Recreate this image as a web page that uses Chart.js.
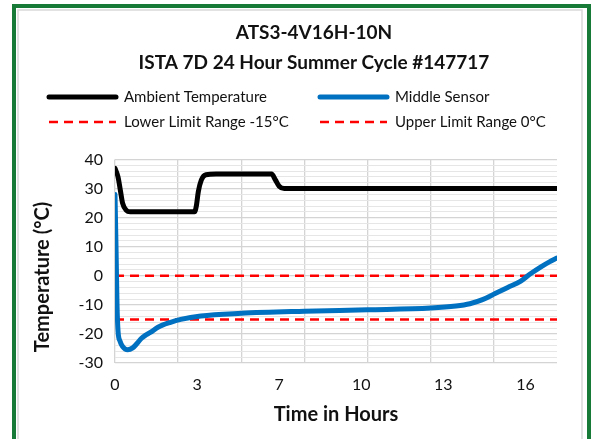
<!DOCTYPE html>
<html>
<head>
<meta charset="utf-8">
<script src="https://cdn.jsdelivr.net/npm/chart.js@4.4.1/dist/chart.umd.min.js"></script>
<style>
  html, body { margin: 0; padding: 0; background: #fff; }
  #wrap { width: 592px; height: 439px; }
</style>
</head>
<body>
<div id="wrap"><canvas id="grafico" width="592" height="439"></canvas></div>
<script>
// --- datos ---
const tituloLineas = ['ATS3-4V16H-10N', 'ISTA 7D 24 Hour Summer Cycle #147717'];

// Ambient Temperature (horas / °C)
const horasAmbiente = [0, 0.12, 0.22, 0.3, 0.45, 0.6, 3.15, 3.22, 3.3, 3.42, 3.6, 4.0, 6.2, 6.35, 6.5, 6.7, 17.5];
const tempAmbiente  = [37, 34, 29, 25, 22.5, 22, 22, 24, 29, 33, 34.8, 35, 35, 33, 30.8, 30, 30];

// Middle Sensor (horas / °C)
const horasSensor = [0, 0.04, 0.08, 0.12, 0.2, 0.3, 0.5, 0.7, 0.87, 1.05, 1.2, 1.4, 1.7, 2.2, 2.6, 3.4, 5.0, 7.5, 10, 12.5, 13.5, 14.05, 14.55, 15.05, 15.55, 16.05, 16.45, 16.85, 17.2, 17.5];
const tempSensor  = [28, 10, -10, -19, -22.5, -24.3, -25.4, -24.8, -23.3, -21.5, -20.5, -19.5, -17.7, -16, -15, -13.8, -12.9, -12.2, -11.7, -11.1, -10.4, -9.6, -8.2, -6.1, -4, -1.9, 0.7, 3.0, 4.8, 6.1];

// Limites
const horasLimite = [0, 17.5];
const limiteInferior = [-15, -15];
const limiteSuperior = [0, 0];

// Ejes
const ejeX = [0, 17.5];
const ejeY = [-30, 40];
const horasEtiquetas = [0, 3.25, 6.5, 9.75, 13, 16.25];
const textoEtiquetas = ['0', '3', '7', '10', '13', '16'];
const horasRejilla = [0, 2.5, 5, 7.5, 10, 12.5, 15];

const nombres = ['Ambient Temperature', 'Middle Sensor', 'Lower Limit Range -15°C', 'Upper Limit Range 0°C'];

function puntos(xs, ys) {
    return xs.map((x, i) => ({ x: x, y: ys[i] }));
}

const FUENTE = 'Lato, "Open Sans", sans-serif';

// marco verde, leyenda y titulos de ejes
const marcoPlugin = {
    id: 'marco',
    beforeDraw(chart) {
        const ctx = chart.ctx;
        ctx.save();
        ctx.fillStyle = '#fff';
        ctx.fillRect(0, 0, chart.width, chart.height);
        ctx.strokeStyle = '#D9D9D9';
        ctx.lineWidth = 1.5;
        ctx.strokeRect(18, 10, 564, 500);
        ctx.strokeStyle = '#177A36';
        ctx.lineWidth = 4;
        ctx.strokeRect(14, 6, 575, 520);
        ctx.restore();
    },
    afterDraw(chart) {
        const ctx = chart.ctx;
        const ds = chart.data.datasets;
        ctx.save();
        // leyenda en dos columnas
        const items = [
            { x: 49, y: 97 }, { x: 320, y: 97 },
            { x: 49, y: 122 }, { x: 320, y: 122 }
        ];
        items.forEach((it, i) => {
            const d = ds[i];
            ctx.strokeStyle = d.borderColor;
            ctx.lineWidth = d.borderWidth;
            ctx.lineCap = d.borderDash ? 'butt' : 'round';
            ctx.setLineDash(d.borderDash || []);
            ctx.beginPath();
            ctx.moveTo(it.x, it.y);
            ctx.lineTo(it.x + 67, it.y);
            ctx.stroke();
            ctx.setLineDash([]);
            ctx.fillStyle = '#111';
            ctx.font = '15px ' + FUENTE;
            ctx.textBaseline = 'middle';
            ctx.textAlign = 'left';
            ctx.fillText(d.label, it.x + 75, it.y);
        });
        // titulos de ejes
        ctx.font = 'bold 20px ' + FUENTE;
        ctx.fillStyle = '#111';
        ctx.textAlign = 'center';
        ctx.textBaseline = 'middle';
        ctx.fillText('Time in Hours', 336, 415);
        ctx.translate(43, 277);
        ctx.rotate(-Math.PI / 2);
        ctx.fillText('Temperature (°C)', 0, 0);
        ctx.restore();
    }
};

const todasX = [...new Set([...horasEtiquetas, ...horasRejilla])].sort((a, b) => a - b);

new Chart(document.getElementById('grafico'), {
    type: 'line',
    data: {
        datasets: [
            {
                label: nombres[0],
                data: puntos(horasAmbiente, tempAmbiente),
                borderColor: '#000000',
                borderWidth: 5,
                cubicInterpolationMode: 'monotone',
                borderCapStyle: 'round',
                borderJoinStyle: 'round'
            },
            {
                label: nombres[1],
                data: puntos(horasSensor, tempSensor),
                borderColor: '#0070C0',
                borderWidth: 5,
                cubicInterpolationMode: 'monotone',
                borderCapStyle: 'round',
                borderJoinStyle: 'round'
            },
            {
                label: nombres[2],
                data: puntos(horasLimite, limiteInferior),
                borderColor: '#FF0000',
                borderWidth: 2.5,
                borderDash: [9, 6]
            },
            {
                label: nombres[3],
                data: puntos(horasLimite, limiteSuperior),
                borderColor: '#FF0000',
                borderWidth: 2.5,
                borderDash: [9, 6]
            }
        ]
    },
    options: {
        responsive: false,
        animation: false,
        events: [],
        elements: { point: { radius: 0 } },
        // padding izquierdo para que el titulo quede centrado como en el original
        layout: { padding: { top: 11, left: 71, right: 35, bottom: 0 } },
        plugins: {
            legend: { display: false },
            tooltip: { enabled: false },
            title: {
                display: true,
                text: tituloLineas,
                color: '#111',
                font: { family: FUENTE, size: 19, weight: 'bold', lineHeight: 1.62 },
                padding: { top: 6, bottom: 81 }
            }
        },
        scales: {
            x: {
                type: 'linear',
                min: ejeX[0],
                max: ejeX[1],
                afterBuildTicks: (scale) => {
                    scale.ticks = todasX.map(v => ({ value: v }));
                },
                afterFit: (scale) => { scale.height = 76; },
                border: { display: false },
                grid: {
                    drawTicks: false,
                    lineWidth: 1.3,
                    color: (c) => (c.tick && horasRejilla.includes(c.tick.value)) ? '#D4D4D4' : 'rgba(0,0,0,0)'
                },
                ticks: {
                    autoSkip: false,
                    maxRotation: 0,
                    padding: 12,
                    color: '#111',
                    font: { family: FUENTE, size: 16 },
                    callback: (v) => {
                        const i = horasEtiquetas.indexOf(v);
                        return i >= 0 ? textoEtiquetas[i] : '';
                    }
                }
            },
            y: {
                min: ejeY[0],
                max: ejeY[1],
                afterFit: (scale) => { scale.width = 44; },
                border: { display: false },
                grid: {
                    drawTicks: false,
                    lineWidth: (c) => (c.tick && c.tick.value % 10 === 0) ? 1.3 : 1,
                    color: (c) => (c.tick && c.tick.value % 10 === 0) ? '#D4D4D4' : '#E6E6E6'
                },
                ticks: {
                    stepSize: 2,
                    autoSkip: false,
                    padding: 12,
                    color: '#111',
                    font: { family: FUENTE, size: 16 },
                    callback: (v) => (v % 10 === 0 ? String(v) : '')
                }
            }
        }
    },
    plugins: [marcoPlugin]
});
</script>
</body>
</html>
